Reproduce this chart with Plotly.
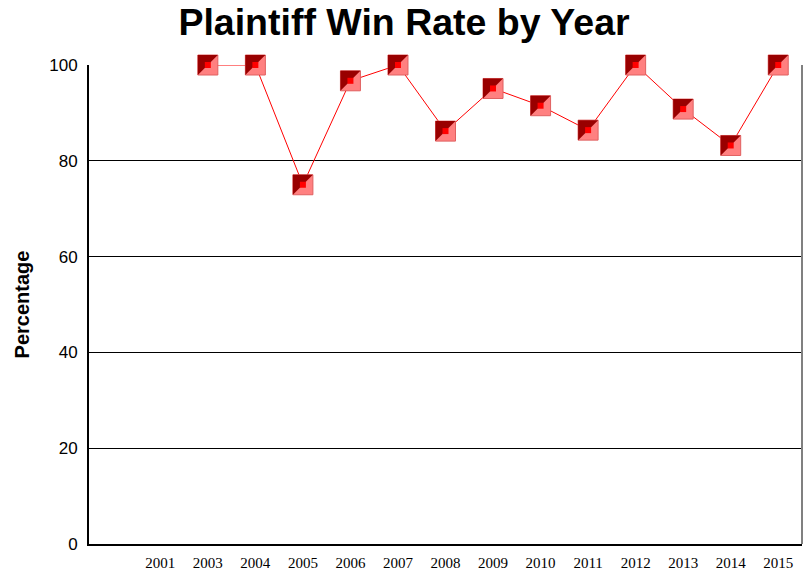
import plotly.graph_objects as go

categories = ["", "2001", "2003", "2004", "2005", "2006", "2007", "2008",
              "2009", "2010", "2011", "2012", "2013", "2014", "2015"]
win_rate = [None, None, 100, 100, 75, 96.7, 100, 86.2, 95.1, 91.5, 86.4,
            100, 90.8, 83.2, 100]
y_ticks = [0, 20, 40, 60, 80, 100]

xidx = list(range(len(categories)))
pts_x = [i for i, v in zip(xidx, win_rate) if v is not None]
pts_y = [v for v in win_rate if v is not None]

PLOT_W = 808 - 89 - 6
XR = [-0.5, len(categories) - 0.5]
YR = [0, 100]
R = 10  # half side of marker square in px
off_px = R / 3.0
dx = off_px * (XR[1] - XR[0]) / PLOT_W

fig = go.Figure()

# line + base (light) square
fig.add_trace(go.Scatter(
    x=pts_x, y=pts_y, mode="lines+markers",
    line=dict(color="#ff0000", width=1),
    marker=dict(symbol="square", size=2 * R, color="#ff8080",
                line=dict(color="#e06060", width=1)),
    cliponaxis=False, hoverinfo="skip", showlegend=False,
))
# dark upper-left bevel (triangle-se rotated 180 => nw, shifted up by standoff)
fig.add_trace(go.Scatter(
    x=pts_x, y=pts_y, mode="markers", xaxis="x2",
    marker=dict(symbol="triangle-se", angle=180, standoff=off_px,
                size=2 * R * 2 / 1.8, color="#990000", line=dict(width=0)),
    cliponaxis=False, hoverinfo="skip", showlegend=False,
))
# center red square
fig.add_trace(go.Scatter(
    x=pts_x, y=pts_y, mode="markers", xaxis="x3",
    marker=dict(symbol="square", size=6, color="#ff0000", line=dict(width=0)),
    cliponaxis=False, showlegend=False,
))

fig.update_layout(
    width=808, height=571,
    margin=dict(l=89, r=6, t=65, b=27, autoexpand=False),
    paper_bgcolor="white", plot_bgcolor="white",
    title=dict(text="<b>Plaintiff Win Rate by Year</b>", x=0.5, xanchor="center",
               y=0.962, yanchor="middle",
               font=dict(family="Liberation Sans, Arial", size=37.5, color="black")),
    xaxis=dict(range=XR, tickmode="array", tickvals=xidx, ticktext=categories,
               showgrid=False, zeroline=False, showline=True, linecolor="black",
               linewidth=2, ticks="", ticklabelstandoff=4, automargin=False,
               tickfont=dict(family="Liberation Serif, Times New Roman", size=15,
                             color="black")),
    yaxis=dict(range=YR, tickmode="array", tickvals=y_ticks, automargin=False,
               showgrid=True, gridcolor="black", gridwidth=1, zeroline=False,
               showline=True, linecolor="black", linewidth=2, ticks="",
               ticklabelstandoff=6,
               tickfont=dict(family="Liberation Sans, Arial", size=17, color="black"),
               title=dict(text="<b>Percentage</b>", standoff=14,
                          font=dict(family="Liberation Sans, Arial", size=20,
                                    color="black"))),
    xaxis2=dict(range=[XR[0] + dx, XR[1] + dx], overlaying="x", visible=False),
    xaxis3=dict(range=XR, overlaying="x", visible=False),
    shapes=[dict(type="line", xref="paper", yref="paper", x0=1, x1=1, y0=0, y1=1,
                 line=dict(color="#808080", width=2))],
)

fig.write_html("out.html", config={"displayModeBar": False},
               post_script="document.body.style.margin='0';")
